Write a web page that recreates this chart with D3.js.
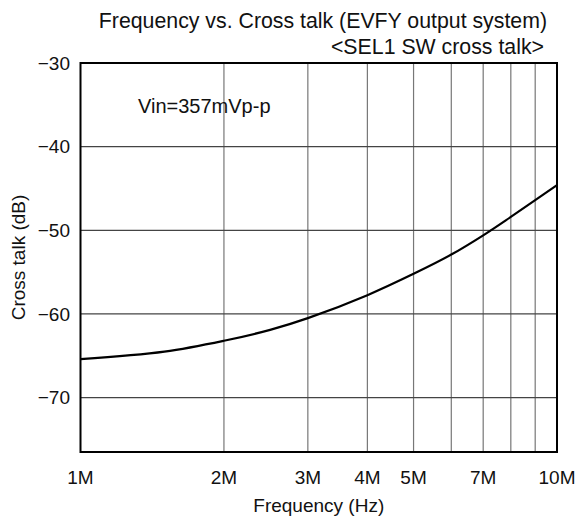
<!DOCTYPE html>
<html>
<head>
<meta charset="utf-8">
<script src="https://cdn.jsdelivr.net/npm/d3@7"></script>
<style>
  body { margin: 0; background: #fff; }
  text { font-family: "Liberation Sans", Arial, sans-serif; fill: #111; }
</style>
</head>
<body>
<div id="chart"></div>
<script>
// Frequency in MHz, cross talk in dB
const freqMHz = [1, 1.5, 2, 2.5, 3, 4, 5, 6, 7, 8, 9, 10];
const crossTalkDb = [-65.4, -64.5, -63.2, -61.9, -60.5, -57.75, -55.2, -52.9, -50.6, -48.4, -46.4, -44.6];

const xGridMHz = [2, 3, 4, 5, 6, 7, 8, 9];
const xTickMHz = [1, 2, 3, 4, 5, 7, 10];
const xTickLabels = ["1M", "2M", "3M", "4M", "5M", "7M", "10M"];
const yTicks = [-30, -40, -50, -60, -70];

const titleLines = ["Frequency vs. Cross talk (EVFY output system)", "<SEL1 SW cross talk>"];
const noteText = "Vin=357mVp-p";

const width = 579, height = 518;
const plot = { left: 80.5, right: 557, top: 63, bottom: 452 };

const svg = d3.select("#chart").append("svg")
    .attr("width", width)
    .attr("height", height);

const x = d3.scaleLog().domain([1, 10]).range([plot.left, plot.right]);
const y = d3.scaleLinear().domain([-76.5, -30]).range([plot.bottom, plot.top]);

// grid
svg.append("g")
    .selectAll("line")
    .data(xGridMHz)
    .join("line")
    .attr("x1", d => x(d)).attr("x2", d => x(d))
    .attr("y1", plot.top).attr("y2", plot.bottom)
    .attr("stroke", "#777")
    .attr("stroke-width", 1.2);

svg.append("g")
    .selectAll("line")
    .data(yTicks.filter(d => d !== -30))
    .join("line")
    .attr("x1", plot.left).attr("x2", plot.right)
    .attr("y1", d => y(d)).attr("y2", d => y(d))
    .attr("stroke", "#444")
    .attr("stroke-width", 1.2);

// curve
const line = d3.line()
    .x((d, i) => x(freqMHz[i]))
    .y(d => y(d))
    .curve(d3.curveCatmullRom);

svg.append("path")
    .datum(crossTalkDb)
    .attr("d", line)
    .attr("fill", "none")
    .attr("stroke", "#000")
    .attr("stroke-width", 2.2);

// frame
svg.append("rect")
    .attr("x", plot.left).attr("y", plot.top)
    .attr("width", plot.right - plot.left)
    .attr("height", plot.bottom - plot.top)
    .attr("fill", "none")
    .attr("stroke", "#000")
    .attr("stroke-width", 2);

// y tick labels
svg.append("g")
    .selectAll("text")
    .data(yTicks)
    .join("text")
    .attr("x", 70)
    .attr("y", d => y(d))
    .attr("dy", "0.35em")
    .attr("text-anchor", "end")
    .style("font-size", "19px")
    .text(d => d3.format("d")(d).replace("-", "\u2212"));

// x tick labels
svg.append("g")
    .selectAll("text")
    .data(xTickMHz)
    .join("text")
    .attr("x", d => x(d))
    .attr("y", 484)
    .attr("text-anchor", "middle")
    .style("font-size", "19px")
    .text((d, i) => xTickLabels[i]);

// axis titles
svg.append("text")
    .attr("x", (plot.left + plot.right) / 2)
    .attr("y", 512)
    .attr("text-anchor", "middle")
    .style("font-size", "19px")
    .text("Frequency (Hz)");

svg.append("text")
    .attr("transform", `translate(25,${(plot.top + plot.bottom) / 2}) rotate(-90)`)
    .attr("text-anchor", "middle")
    .style("font-size", "19px")
    .text("Cross talk (dB)");

// titles
svg.append("text")
    .attr("x", 547)
    .attr("y", 28)
    .attr("text-anchor", "end")
    .style("font-size", "21.3px")
    .text(titleLines[0]);

svg.append("text")
    .attr("x", 544)
    .attr("y", 54)
    .attr("text-anchor", "end")
    .style("font-size", "21.3px")
    .text(titleLines[1]);

// note
svg.append("text")
    .attr("x", 138)
    .attr("y", 113)
    .style("font-size", "20px")
    .text(noteText);
</script>
</body>
</html>
